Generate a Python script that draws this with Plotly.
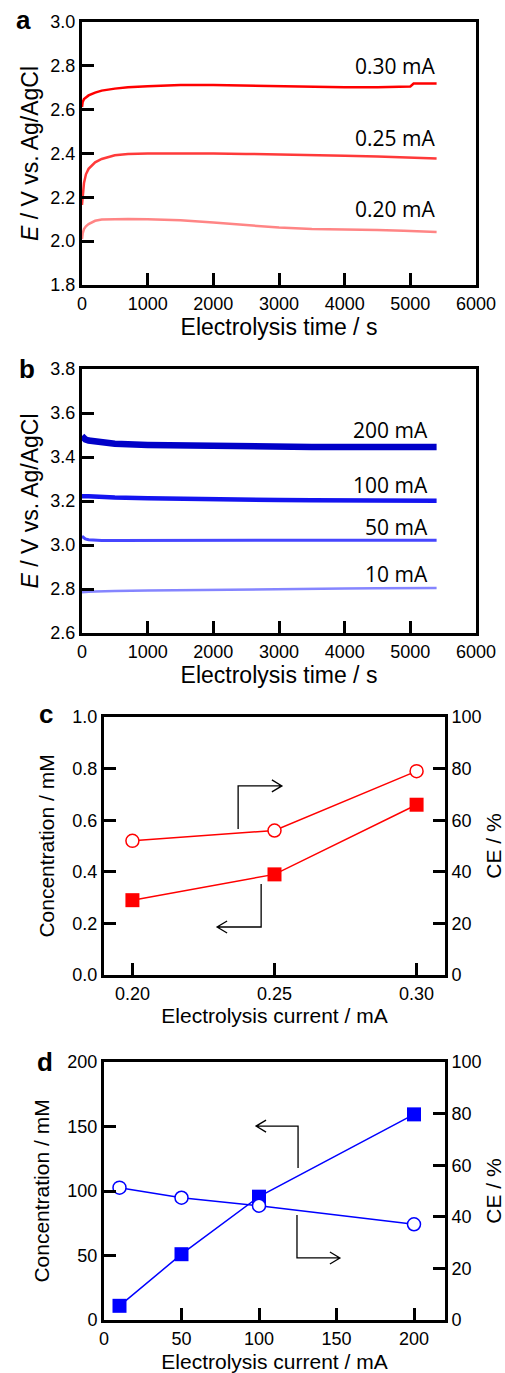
import plotly.graph_objects as go

W, H = 505, 1373

# ---------------- data ----------------
# panel a: potential vs time (small currents)
time_a = [0, 10, 30, 60, 100, 200, 300, 500, 700, 1000, 1500, 2000, 2500, 2800,
          3000, 3500, 4000, 4500, 4900, 5000, 5050, 5400]
e_030 = [2.612, 2.635, 2.648, 2.657, 2.665, 2.678, 2.687, 2.696, 2.702, 2.707, 2.712,
         2.712, 2.709, 2.706, 2.705, 2.703, 2.702, 2.702, 2.703, 2.706, 2.719, 2.719]
e_025 = [2.165, 2.21, 2.265, 2.305, 2.33, 2.36, 2.375, 2.392, 2.398, 2.40, 2.401,
         2.40, 2.398, 2.397, 2.396, 2.394, 2.39, 2.386, 2.382, 2.381, 2.38, 2.377]
e_020 = [2.01, 2.035, 2.055, 2.068, 2.078, 2.093, 2.099, 2.101, 2.101, 2.100, 2.096,
         2.085, 2.074, 2.066, 2.062, 2.055, 2.054, 2.051, 2.047, 2.046, 2.046, 2.042]
labels_a = ["0.30 mA", "0.25 mA", "0.20 mA"]
label_a_y = [2.80, 2.471, 2.147]

# panel b: potential vs time (large currents)
time_b = [0, 20, 50, 100, 200, 300, 500, 1000, 1500, 2000, 2500, 3000, 3500, 4000,
          4500, 5000, 5400]
e_200 = [3.495, 3.488, 3.48, 3.475, 3.47, 3.465, 3.46, 3.455, 3.452, 3.45, 3.449,
         3.448, 3.446, 3.445, 3.445, 3.446, 3.446]
e_100 = [3.222, 3.224, 3.222, 3.222, 3.22, 3.219, 3.216, 3.212, 3.209, 3.206, 3.205,
         3.204, 3.203, 3.202, 3.202, 3.201, 3.201]
e_050 = [3.04, 3.035, 3.028, 3.024, 3.022, 3.021, 3.021, 3.021, 3.022, 3.022, 3.022,
         3.022, 3.022, 3.022, 3.022, 3.022, 3.022]
e_010 = [2.785, 2.786, 2.787, 2.788, 2.789, 2.79, 2.791, 2.793, 2.795, 2.797, 2.799,
         2.80, 2.801, 2.802, 2.803, 2.804, 2.805]
labels_b = ["200 mA", "100 mA", "50 mA", "10 mA"]
label_b_y = [3.525, 3.273, 3.084, 2.866]

# panel c
current_c = [0.20, 0.25, 0.30]
conc_c = [0.29, 0.39, 0.66]
ce_c = [52, 56, 79]

# panel d
current_d = [10, 50, 100, 200]
conc_d = [11, 51, 95.6, 159.4]
ce_d = [51.3, 47.4, 44.3, 37.1]

# ---------------- styling ----------------
TICKF = dict(family="Liberation Sans, Arial", size=18, color="black")
RED = ["#ff0000", "#ff3a3a", "#ff8585"]
BLUE = ["#0000c8", "#1414f0", "#4646ff", "#8585ff"]


def px_x(p):
    return p / W


def px_y(p):
    return 1 - p / H


fig = go.Figure()

# panel a traces
for ys, c in zip([e_030, e_025, e_020], RED):
    fig.add_trace(go.Scatter(x=time_a, y=ys, mode="lines", line=dict(color=c, width=2.5),
                             xaxis="x", yaxis="y", showlegend=False))
# panel b traces
for ys, c, w in zip([e_200, e_100, e_050, e_010], BLUE, [6.5, 4.5, 3, 2.5]):
    fig.add_trace(go.Scatter(x=time_b, y=ys, mode="lines", line=dict(color=c, width=w),
                             xaxis="x2", yaxis="y2", showlegend=False))
# panel c traces
fig.add_trace(go.Scatter(x=current_c, y=conc_c, mode="lines+markers",
                         line=dict(color="#ff0000", width=1.5),
                         marker=dict(symbol="square", size=14, color="#ff0000"),
                         xaxis="x3", yaxis="y3", showlegend=False))
fig.add_trace(go.Scatter(x=current_c, y=ce_c, mode="lines+markers",
                         line=dict(color="#ff0000", width=1.5),
                         marker=dict(symbol="circle", size=13, color="white",
                                     line=dict(color="#ff0000", width=1.5)),
                         xaxis="x3", yaxis="y4", showlegend=False))
# panel d traces
fig.add_trace(go.Scatter(x=current_d, y=conc_d, mode="lines+markers",
                         line=dict(color="#0000ff", width=1.5),
                         marker=dict(symbol="square", size=14, color="#0000ff"),
                         xaxis="x4", yaxis="y5", showlegend=False))
fig.add_trace(go.Scatter(x=current_d, y=ce_d, mode="lines+markers",
                         line=dict(color="#0000ff", width=1.5),
                         marker=dict(symbol="circle", size=13, color="white",
                                     line=dict(color="#0000ff", width=1.5)),
                         xaxis="x4", yaxis="y6", showlegend=False))

common = dict(ticks="inside", ticklen=12, tickwidth=2.5, tickcolor="black",
              showline=True, linewidth=3, linecolor="black", mirror=True,
              showgrid=False, zeroline=False, tickfont=TICKF, automargin=False)

TITLE_AB = dict(family="Liberation Sans, Arial", size=23, color="black")
TITLE_CD = dict(family="Liberation Sans, Arial", size=21, color="black")

fig.update_layout(
    width=W, height=H, autosize=False,
    margin=dict(l=0, r=0, t=0, b=0, pad=0),
    paper_bgcolor="white", plot_bgcolor="white",
    xaxis=dict(domain=[px_x(82), px_x(476)], range=[0, 6000], dtick=1000, anchor="y",
               title=dict(text="Electrolysis time / s", font=TITLE_AB, standoff=6), **common),
    yaxis=dict(domain=[px_y(285), px_y(22)], range=[1.8, 3.0], dtick=0.2, tickformat=".1f",
               anchor="x", title=dict(text="<i>E</i> / V vs. Ag/AgCl", font=TITLE_AB, standoff=6),
               **common),
    xaxis2=dict(domain=[px_x(82), px_x(476)], range=[0, 6000], dtick=1000, anchor="y2",
                title=dict(text="Electrolysis time / s", font=TITLE_AB, standoff=6), **common),
    yaxis2=dict(domain=[px_y(633), px_y(369)], range=[2.6, 3.8], dtick=0.2, tickformat=".1f",
                anchor="x2", title=dict(text="<i>E</i> / V vs. Ag/AgCl", font=TITLE_AB, standoff=6),
                **common),
    xaxis3=dict(domain=[px_x(104), px_x(445)], range=[0.19, 0.31], tickvals=[0.20, 0.25, 0.30],
                tickformat=".2f", anchor="y3",
                title=dict(text="Electrolysis current / mA", font=TITLE_CD, standoff=6), **common),
    yaxis3=dict(domain=[px_y(975), px_y(717)], range=[0, 1.0], dtick=0.2, tickformat=".1f",
                anchor="x3", title=dict(text="Concentration / mM", font=TITLE_CD, standoff=13),
                **common),
    yaxis4=dict(range=[0, 100], dtick=20, overlaying="y3", side="right", anchor="x3",
                title=dict(text="CE / %", font=TITLE_CD, standoff=6), **common),
    xaxis4=dict(domain=[px_x(104), px_x(445)], range=[0, 220], dtick=50, anchor="y5",
                title=dict(text="Electrolysis current / mA", font=TITLE_CD, standoff=8), **common),
    yaxis5=dict(domain=[px_y(1320), px_y(1062)], range=[0, 200], dtick=50, anchor="x4",
                title=dict(text="Concentration / mM", font=TITLE_CD, standoff=13), **common),
    yaxis6=dict(range=[0, 100], dtick=20, overlaying="y5", side="right", anchor="x4",
                title=dict(text="CE / %", font=TITLE_CD, standoff=6), **common),
)

LABF = dict(family="Open Sans", size=21, color="black")
ann = []
for t, y in zip(labels_a, label_a_y):
    ann.append(dict(x=5406, y=y, xref="x", yref="y", text=t, showarrow=False,
                    xanchor="right", yanchor="middle", font=LABF))
for t, y in zip(labels_b, label_b_y):
    ann.append(dict(x=5300, y=y, xref="x2", yref="y2", text=t, showarrow=False,
                    xanchor="right", yanchor="middle", font=LABF))

PANF = dict(family="Liberation Sans, Arial", size=26, color="black")
for letter, (lx, ly) in zip("abcd", [(14, 20), (17, 369), (37, 714), (35, 1062)]):
    ann.append(dict(x=px_x(lx), y=px_y(ly), xref="paper", yref="paper", text=f"<b>{letter}</b>",
                    showarrow=False, xanchor="left", yanchor="middle", font=PANF))
fig.update_layout(annotations=ann)

# bent arrows pointing to the relevant axis (layout decoration)
def bent_arrow(xref, yref, x0, y0, y1, x1, ux, uy, head_len=10, head_half=6):
    d = 1 if x1 > x0 else -1
    hx = x1 - d * head_len * ux
    path = (f"M {x0},{y0} L {x0},{y1} L {x1},{y1} "
            f"M {hx},{y1 + head_half * uy} L {x1},{y1} L {hx},{y1 - head_half * uy}")
    return dict(type="path", path=path, xref=xref, yref=yref,
                line=dict(color="black", width=1.3))

ux_c, uy_c = 0.12 / 341, 1.0 / 258
ux_d, uy_d = 220 / 341, 200 / 258
shapes = [
    bent_arrow("x3", "y3", 0.2372, 0.566, 0.733, 0.2526, ux_c, uy_c),
    bent_arrow("x3", "y3", 0.2453, 0.353, 0.186, 0.2298, ux_c, uy_c),
    bent_arrow("x4", "y5", 125.2, 117.8, 150.3, 98.1, ux_d, uy_d),
    bent_arrow("x4", "y5", 124.5, 81.4, 48.1, 152.2, ux_d, uy_d),
]
fig.update_layout(shapes=shapes)

fig.write_html("out.html", config={"displayModeBar": False},
               post_script="document.body.style.margin='0';document.body.style.overflow='hidden';")
